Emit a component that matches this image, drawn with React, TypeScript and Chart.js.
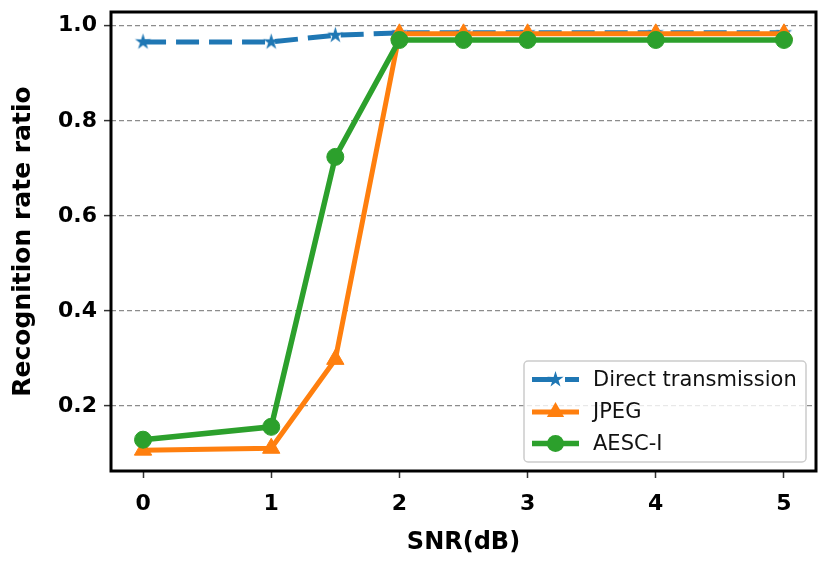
import { useEffect, useRef } from "react";
import { Chart, registerables } from "chart.js";

Chart.register(...registerables);

// data
const snr = [0, 1, 1.5, 2, 2.5, 3, 4, 5];
const directTransmission = [0.966, 0.966, 0.98, 0.985, 0.985, 0.985, 0.985, 0.985];
const jpeg = [0.107, 0.111, 0.298, 0.983, 0.983, 0.983, 0.983, 0.983];
const aescI = [0.129, 0.156, 0.724, 0.97, 0.97, 0.97, 0.97, 0.97];
const xTicks = [0, 1, 2, 3, 4, 5];
const yTicks = [0.2, 0.4, 0.6, 0.8, 1.0];
const seriesNames = ["Direct transmission", "JPEG", "AESC-I"];

const BLUE = "#1f77b4";
const ORANGE = "#ff7f0e";
const GREEN = "#2ca02c";
const FONT = "'DejaVu Sans', sans-serif";

// matplotlib-like 5% auto margins
const pad = (vals: number[]) => {
  const lo = Math.min(...vals);
  const hi = Math.max(...vals);
  const m = (hi - lo) * 0.05;
  return [lo - m, hi + m];
};
const [xMin, xMax] = pad(snr);
const [yMin, yMax] = pad([...directTransmission, ...jpeg, ...aescI]);

const makeStar = (color: string, r: number) => {
  const size = Math.ceil(r * 2 + 4);
  const c = document.createElement("canvas");
  c.width = size;
  c.height = size;
  const ctx = c.getContext("2d")!;
  ctx.fillStyle = color;
  ctx.beginPath();
  for (let i = 0; i < 10; i++) {
    const rad = i % 2 === 0 ? r : r * 0.38;
    const a = -Math.PI / 2 + (i * Math.PI) / 5;
    const px = size / 2 + rad * Math.cos(a);
    const py = size / 2 + rad * Math.sin(a);
    if (i === 0) ctx.moveTo(px, py);
    else ctx.lineTo(px, py);
  }
  ctx.closePath();
  ctx.fill();
  return c;
};

const drawMarker = (ctx: CanvasRenderingContext2D, kind: string, x: number, y: number, star: HTMLCanvasElement) => {
  if (kind === "star") {
    ctx.drawImage(star, x - star.width / 2, y - star.height / 2);
    return;
  }
  ctx.beginPath();
  if (kind === "triangle") {
    const r = 10;
    for (let i = 0; i < 3; i++) {
      const a = -Math.PI / 2 + (i * 2 * Math.PI) / 3;
      const px = x + r * Math.cos(a);
      const py = y + r * Math.sin(a);
      if (i === 0) ctx.moveTo(px, py);
      else ctx.lineTo(px, py);
    }
    ctx.closePath();
  } else {
    ctx.arc(x, y, 8.5, 0, Math.PI * 2);
  }
  ctx.fill();
};

const App = () => {
  const canvasRef = useRef<HTMLCanvasElement>(null);

  useEffect(() => {
    document.body.style.margin = "0";
    if (!canvasRef.current) return;
    const star = makeStar(BLUE, 8.5);

    const styles = [
      { color: BLUE, marker: "star", dash: [23, 10], width: 5 },
      { color: ORANGE, marker: "triangle", dash: [] as number[], width: 5 },
      { color: GREEN, marker: "circle", dash: [] as number[], width: 5.5 },
    ];

    const frameAndLegend = {
      id: "frameAndLegend",
      afterDatasetsDraw(chart: Chart) {
        const { ctx, chartArea } = chart;
        const { left, top, right, bottom } = chartArea;
        ctx.save();
        ctx.strokeStyle = "#000";
        ctx.lineWidth = 3;
        ctx.strokeRect(left, top, right - left, bottom - top);

        // legend box, lower right
        const bw = 282;
        const bh = 101;
        const bx = right - 10 - bw;
        const by = bottom - 9 - bh;
        ctx.beginPath();
        ctx.roundRect(bx, by, bw, bh, 4);
        ctx.fillStyle = "rgba(255,255,255,0.8)";
        ctx.fill();
        ctx.strokeStyle = "#cccccc";
        ctx.lineWidth = 1.5;
        ctx.stroke();

        const rows = [18.5, 51, 82.5];
        seriesNames.forEach((name, i) => {
          const s = styles[i];
          const y = by + rows[i];
          const x1 = bx + 8;
          const x2 = bx + 55;
          ctx.strokeStyle = s.color;
          ctx.fillStyle = s.color;
          ctx.lineWidth = s.width;
          ctx.setLineDash(s.dash);
          ctx.beginPath();
          ctx.moveTo(x1, y);
          ctx.lineTo(x2, y);
          ctx.stroke();
          ctx.setLineDash([]);
          drawMarker(ctx, s.marker, (x1 + x2) / 2, y, star);
          ctx.fillStyle = "#111";
          ctx.font = `21px ${FONT}`;
          ctx.textBaseline = "middle";
          ctx.textAlign = "left";
          ctx.fillText(name, bx + 69, y + 1);
        });
        ctx.restore();
      },
    };

    const series = [directTransmission, jpeg, aescI];
    const chart = new Chart(canvasRef.current, {
      type: "line",
      data: {
        datasets: series.map((vals, i) => ({
          label: seriesNames[i],
          data: snr.map((x, j) => ({ x, y: vals[j] })),
          borderColor: styles[i].color,
          backgroundColor: styles[i].color,
          borderWidth: styles[i].width,
          borderDash: styles[i].dash,
          pointStyle: styles[i].marker === "star" ? star : styles[i].marker,
          pointRadius: styles[i].marker === "triangle" ? 10 : 8.5,
          pointBorderWidth: 1,
          pointBorderColor: styles[i].color,
          pointBackgroundColor: styles[i].color,
          tension: 0,
          order: 2 - i,
        })),
      },
      options: {
        animation: false,
        responsive: true,
        maintainAspectRatio: false,
        events: [],
        layout: { padding: { top: 12, right: 14, left: 0, bottom: 0 } },
        plugins: {
          legend: { display: false },
          tooltip: { enabled: false },
        },
        scales: {
          x: {
            type: "linear",
            min: xMin,
            max: xMax,
            afterBuildTicks: (scale) => {
              scale.ticks = xTicks.map((v) => ({ value: v }));
            },
            afterFit: (scale: any) => {
              scale.height = 94;
              scale.paddingLeft = 0;
              scale.paddingRight = 0;
            },
            border: { display: false },
            grid: {
              drawOnChartArea: false,
              drawTicks: true,
              tickLength: 7,
              tickColor: "#333",
              tickWidth: 1.5,
            },
            ticks: {
              autoSkip: false,
              maxRotation: 0,
              padding: 13,
              color: "#000",
              font: { family: FONT, size: 22, weight: "bold" },
              callback: (v) => String(v),
            },
            title: {
              display: true,
              text: "SNR(dB)",
              color: "#000",
              font: { family: FONT, size: 24, weight: "bold" },
              padding: { top: 0, bottom: 8 },
            },
          },
          y: {
            type: "linear",
            min: yMin,
            max: yMax,
            afterBuildTicks: (scale) => {
              scale.ticks = yTicks.map((v) => ({ value: v }));
            },
            afterFit: (scale: any) => {
              scale.width = 111;
              scale.paddingTop = 0;
              scale.paddingBottom = 0;
            },
            border: { display: false, dash: [5, 3] },
            grid: {
              color: "rgba(0,0,0,0.45)",
              lineWidth: 1.2,
              drawTicks: true,
              tickLength: 7,
              tickColor: "#333",
              tickWidth: 1.5,
              tickBorderDash: [],
            },
            ticks: {
              autoSkip: false,
              padding: 7,
              color: "#000",
              font: { family: FONT, size: 22, weight: "bold" },
              callback: (v) => Number(v).toFixed(1),
            },
            title: {
              display: true,
              text: "Recognition rate ratio",
              color: "#000",
              font: { family: FONT, size: 25, weight: "bold" },
              padding: { top: 8, bottom: 0 },
            },
          },
        },
      },
      plugins: [frameAndLegend],
    });

    return () => chart.destroy();
  }, []);

  return (
    <div style={{ position: "relative", width: 830, height: 565, background: "#fff" }}>
      <canvas ref={canvasRef}></canvas>
    </div>
  );
};

export default App;
